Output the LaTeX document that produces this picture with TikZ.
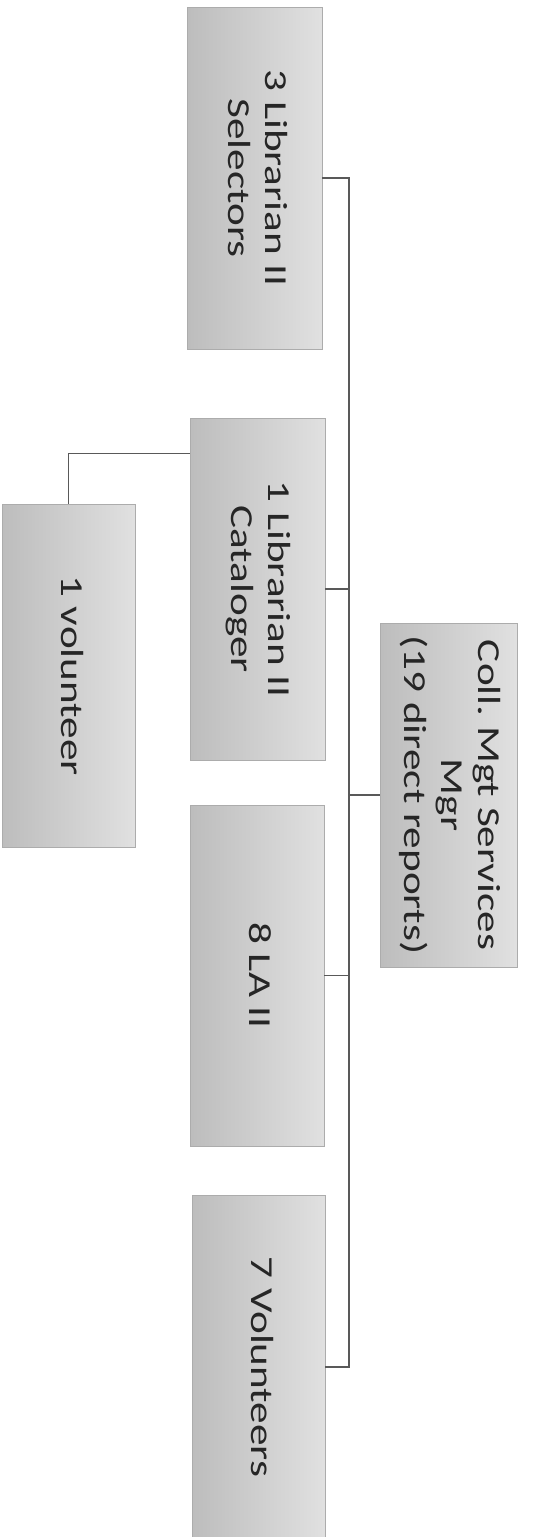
\documentclass[tikz,border=0pt]{standalone}
\usepackage{fontspec}
\setmainfont{Carlito}
\usepackage{graphicx}
\usetikzlibrary{calc}
\frenchspacing
\newcommand{\boxlbl}[1]{\rotatebox{-90}{\scalebox{1.35}[1]{\fontsize{32}{37}\selectfont\begin{tabular}{@{}c@{}}#1\end{tabular}}}}
\tikzset{
  orgbox/.style={rectangle, draw=gray!65, line width=0.8pt, left color=gray!52, right color=gray!24, inner sep=0pt, text=black!85},
  link/.style={draw=gray!70!black, line width=1.6pt}
}
\begin{document}
\begin{tikzpicture}[x=1pt,y=-1pt]
\useasboundingbox (0,0) rectangle (533,1537);
\node[orgbox, minimum width=135pt, minimum height=342pt] (sel) at (254.5,178) {\boxlbl{3 Librarian II\\Selectors}};
\node[orgbox, minimum width=135pt, minimum height=342pt] (cat) at (257.5,589) {\boxlbl{1 Librarian II\\Cataloger}};
\node[orgbox, minimum width=133pt, minimum height=343pt] (vol) at (68.5,675.5) {\boxlbl{1 volunteer}};
\node[orgbox, minimum width=137pt, minimum height=344pt] (mgr) at (448.5,795) {\boxlbl{Coll.\ Mgt Services\\Mgr\\(19 direct reports)}};
\node[orgbox, minimum width=134pt, minimum height=341pt] (la) at (257,975.5) {\boxlbl{8 LA II}};
\node[orgbox, minimum width=133pt, minimum height=344pt] (vols) at (258.5,1367) {\boxlbl{7 Volunteers}};
\coordinate (ttop) at (349,178);
\coordinate (tbot) at (349,1367);
\draw[link] (sel.east) -- (ttop) -- (tbot) -- (vols.east);
\draw[link] (cat.east) -- (cat.east -| ttop);
\draw[link] (la.east) -- (la.east -| ttop);
\draw[link] (mgr.west) -- (mgr.west -| ttop);
\coordinate (k) at ($(cat.north west)+(0,36)$);
\draw[link] (k) -| (vol.north);
\end{tikzpicture}
\end{document}
